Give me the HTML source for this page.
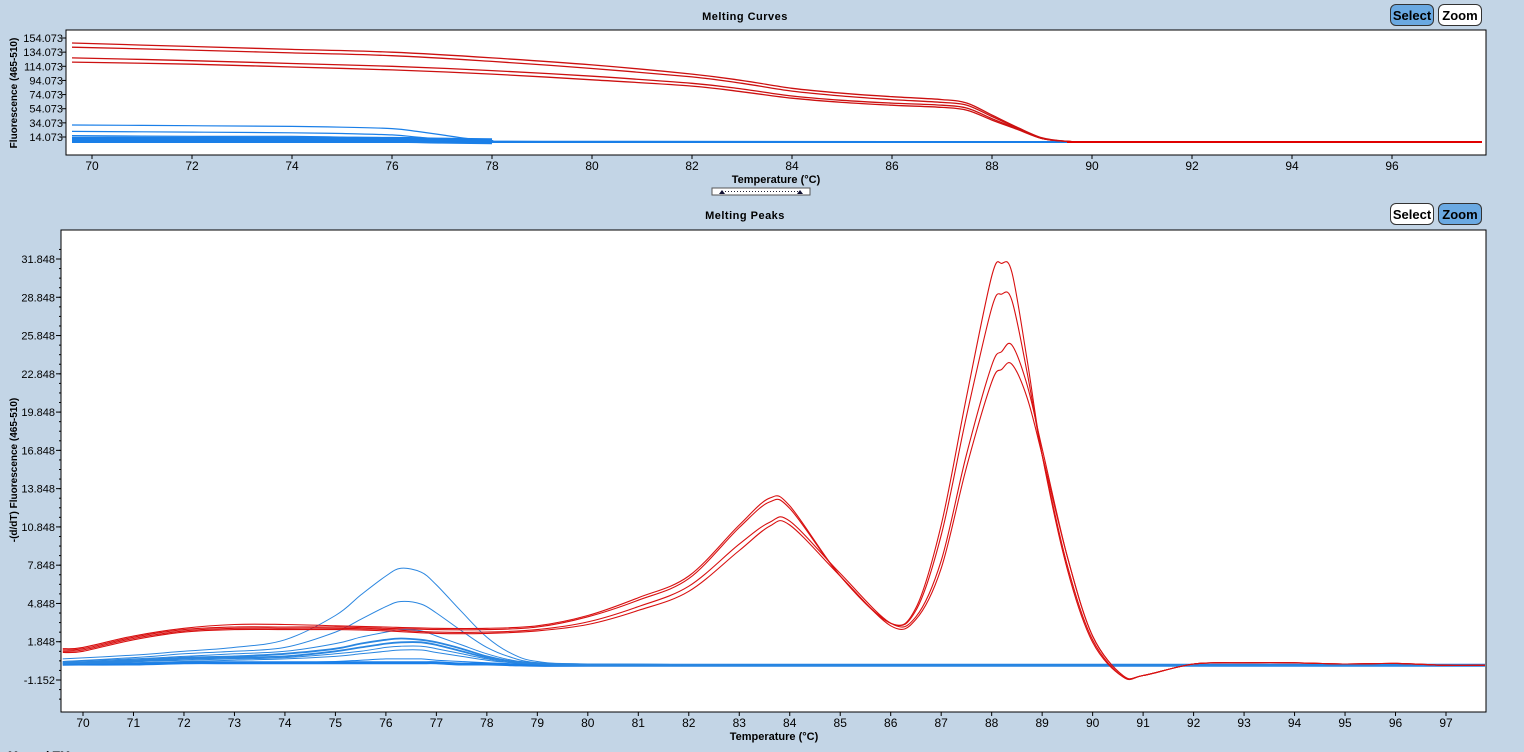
<!DOCTYPE html>
<html><head><meta charset="utf-8">
<style>
html,body{margin:0;padding:0;background:#c3d5e6;width:1524px;height:752px;overflow:hidden;font-family:"Liberation Sans",Arial,sans-serif}
svg{position:absolute;left:0;top:0}
.btn{position:absolute;height:22px;border:1px solid #333;border-radius:6px;font:bold 13px "Liberation Sans",sans-serif;line-height:22px;text-align:center;box-sizing:border-box}
</style></head>
<body>
<svg id="chart" width="1524" height="752" xmlns="http://www.w3.org/2000/svg"></svg>
<div class="btn" style="left:1390px;top:4px;width:44px;background:#6aa9e2">Select</div>
<div class="btn" style="left:1438px;top:4px;width:44px;background:#fff">Zoom</div>
<div class="btn" style="left:1390px;top:203px;width:44px;background:#fff">Select</div>
<div class="btn" style="left:1438px;top:203px;width:44px;background:#6aa9e2">Zoom</div>
<script>
// ---- top chart data (Melting Curves) ----
const topTemps = [69.6,72,74,76,78,80,82,83,84,85,86,87,87.5,88,88.5,89,89.5,90,92,97.8];
const topRed1 = [147,142,138,134,126,116,103,94,83,76,71,67,62,45,28,13,8,7,7,7];
const topRed2 = [141,137,133,129,121,111,99,90,79,72,67,63,59,43,27,12,8,7,7,7];
const topRed3 = [126,122,118,114,108,100,90,82,72,66,62,59,55,40,26,12,8,7,7,7];
const topRed4 = [120,117,113,109,103,95,86,78,69,63,59,56,52,38,25,12,8,7,7,7];
const topBlueTemps = [69.6,72,74,75,76,76.5,77,77.5,78,79,97.8];
const topBlue1 = [31,30,29,28,26,22,17,12,9,8,7];
const topBlue2 = [22,21,20,19,17,14,11,9,8,7,7];
const topBlue3 = [16,15,15,14,13,11,9,8,7,7,7];
const topBlue4 = [13,13,13,12,12,11,9,8,7,7,7];
const topBandTemps = [69.6,72,74,76,77,78];
const topBand = [10,10,10,10,9,8];
const topYTicks = [14.073,34.073,54.073,74.073,94.073,114.073,134.073,154.073];
const topXTicks = [70,72,74,76,78,80,82,84,86,88,90,92,94,96];
// ---- bottom chart data (Melting Peaks) ----
const botTemps = [69.6,70,71,72,73,74,75,76,77,78,79,80,81,82,83,83.6,84,85,86,86.5,87,87.5,88,88.2,88.4,88.7,89,89.5,90,90.6,91,92,93,94,95,96,97,97.8];
const botRed1 = [1.3,1.4,2.3,2.9,3.2,3.2,3.1,3.0,2.9,2.9,3.1,3.9,5.3,7.0,11.0,13.1,12.5,7.0,3.3,4.5,11,21,30.5,31.5,30.8,24,16.5,7.5,1.8,-0.9,-0.8,0.1,0.2,0.2,0.1,0.15,0,0];
const botRed2 = [1.2,1.3,2.2,2.8,3.0,3.0,3.0,2.9,2.8,2.8,3.0,3.8,5.1,6.8,10.8,12.8,12.3,7.0,3.3,4.3,10.2,19.5,28,29.1,28.6,23,16.5,7.8,2.0,-0.9,-0.8,0.1,0.2,0.2,0.1,0.15,0,0];
const botRed3 = [1.1,1.2,2.1,2.7,2.9,2.9,2.9,2.8,2.6,2.6,2.8,3.4,4.6,6.2,9.5,11.2,11.3,7.2,3.3,3.8,8.2,16.5,23.5,24.6,25.1,22,17,8.5,2.3,-0.8,-0.8,0.1,0.2,0.2,0.1,0.15,0,0];
const botRed4 = [1.0,1.1,2.0,2.6,2.8,2.8,2.8,2.7,2.5,2.5,2.7,3.2,4.3,5.8,9.0,10.9,11.0,7.0,3.1,3.6,7.6,15.5,22.2,23.2,23.6,21,16.5,8.5,2.3,-0.8,-0.8,0.1,0.2,0.2,0.1,0.15,0,0];
const botBlueTemps = [69.6,71,72,73,74,75,75.5,76,76.3,76.7,77,77.5,78,78.5,79,80,84,90,97.8];
const botBlue1 = [0.5,0.8,1.1,1.4,2.0,3.9,5.5,7.0,7.6,7.3,6.3,4.2,2.2,0.9,0.3,0.1,0,0,0];
const botBlue2 = [0.3,0.6,0.9,1.1,1.4,2.6,3.6,4.6,5.0,4.8,4.1,2.7,1.4,0.6,0.2,0.1,0,0,0];
const botBlue3 = [0.3,0.5,0.7,0.9,1.1,1.7,2.2,2.6,2.8,2.7,2.3,1.6,0.9,0.4,0.2,0.1,0,0,0];
const botBlue4 = [0.2,0.4,0.6,0.7,0.9,1.3,1.7,2.0,2.1,2.0,1.8,1.3,0.7,0.3,0.1,0,0,0,0];
const botBlue5 = [0.2,0.3,0.5,0.6,0.7,1.1,1.4,1.7,1.8,1.8,1.6,1.1,0.6,0.3,0.1,0,0,0,0];
const botBlue6 = [0.1,0.3,0.4,0.5,0.6,0.9,1.1,1.4,1.5,1.5,1.3,0.9,0.5,0.2,0.1,0,0,0,0];
const botBlue7 = [0.1,0.2,0.3,0.4,0.5,0.7,0.9,1.1,1.2,1.2,1.0,0.7,0.4,0.2,0.1,0,0,0,0];
const botBlue8 = [0.0,0.1,0.2,0.2,0.2,0.3,0.4,0.5,0.5,0.5,0.4,0.3,0.2,0.1,0,0,0,0,0];
const botBlue9 = [0.1,0.1,0.2,0.2,0.2,0.2,0.2,0.2,0.2,0.2,0.2,0.1,0.1,0.05,0,0,0,0,0];
const botYTicks = [-1.152,1.848,4.848,7.848,10.848,13.848,16.848,19.848,22.848,25.848,28.848,31.848];
const botXTicks = [70,71,72,73,74,75,76,77,78,79,80,81,82,83,84,85,86,87,88,89,90,91,92,93,94,95,96,97];

const NS="http://www.w3.org/2000/svg";
const svg=document.getElementById('chart');
function mk(tag,attrs,parent){const e=document.createElementNS(NS,tag);for(const k in attrs)e.setAttribute(k,attrs[k]);(parent||svg).appendChild(e);return e;}
function txt(x,y,s,attrs){const e=mk('text',Object.assign({x:x,y:y,'font-family':'Liberation Sans, Arial, sans-serif','font-size':12,fill:'#000'},attrs||{}));e.textContent=s;return e;}

const topBox={x0:66,x1:1486,y0:30,y1:155};
const topX=t=>92+(t-70)*50;
const topY=v=>137-(v-14.073)*(99/140);
const botBox={x0:61,x1:1486,y0:230,y1:712};
const botX=t=>83+(t-70)*(1363/27);
const botY=v=>680-(v+1.152)*(421/33);

function pathFrom(ts,vs,fx,fy){
  const p=ts.map((t,i)=>[fx(t),fy(vs[i])]);
  let d='M'+p[0][0].toFixed(1)+','+p[0][1].toFixed(1);
  for(let i=0;i<p.length-1;i++){
    const p0=p[Math.max(0,i-1)],p1=p[i],p2=p[i+1],p3=p[Math.min(p.length-1,i+2)];
    const c1x=p1[0]+(p2[0]-p0[0])/6,c1y=p1[1]+(p2[1]-p0[1])/6;
    const c2x=p2[0]-(p3[0]-p1[0])/6,c2y=p2[1]-(p3[1]-p1[1])/6;
    d+=' C'+c1x.toFixed(1)+','+c1y.toFixed(1)+' '+c2x.toFixed(1)+','+c2y.toFixed(1)+' '+p2[0].toFixed(1)+','+p2[1].toFixed(1);
  }
  return d;
}

// ---------- TOP ----------
txt(745,20,'Melting Curves',{'font-weight':'bold','font-size':11,'text-anchor':'middle','letter-spacing':'0.5'});
const tb=mk('rect',{x:topBox.x0,y:topBox.y0,width:topBox.x1-topBox.x0,height:topBox.y1-topBox.y0,fill:'#fff',stroke:'#000','stroke-width':1});


topYTicks.forEach(v=>{const y=topY(v);mk('line',{x1:topBox.x0-4,x2:topBox.x0,y1:y,y2:y,stroke:'#000'});
  const l=txt(topBox.x0-3,y+4,v.toFixed(3),{'text-anchor':'end','font-size':11});
  
  });
topXTicks.forEach(t=>{const x=topX(t);mk('line',{x1:x,x2:x,y1:topBox.y1,y2:topBox.y1+4,stroke:'#000'});
  const l=txt(x,170,String(t),{'text-anchor':'middle'});
  
  });
const tyl=txt(0,0,'Fluorescence (465-510)',{'font-weight':'bold','font-size':10,'text-anchor':'middle',transform:'translate(17,93) rotate(-90)'});

const txl=txt(776,183,'Temperature (°C)',{'font-weight':'bold','font-size':11,'text-anchor':'middle'});

const sh=mk('rect',{x:712,y:188,width:98,height:7,fill:'#fff',stroke:'#555'});


mk('line',{x1:722,x2:800,y1:191.5,y2:191.5,stroke:'#223','stroke-dasharray':'1,2'});
mk('polygon',{points:'719,194 722,190 725,194',fill:'#113'});
mk('polygon',{points:'797,194 800,190 803,194',fill:'#113'});

const defs=mk('defs',{});
const cp=mk('clipPath',{id:'ct'},defs);mk('rect',{x:topBox.x0+1,y:topBox.y0+1,width:topBox.x1-topBox.x0-2,height:topBox.y1-topBox.y0-2},cp);
const cp2=mk('clipPath',{id:'cb'},defs);mk('rect',{x:botBox.x0+1,y:botBox.y0+1,width:botBox.x1-botBox.x0-2,height:botBox.y1-botBox.y0-2},cp2);
const gTop=mk('g',{'clip-path':'url(#ct)'});
const band=mk('path',{d:pathFrom(topBandTemps,topBand,topX,topY),fill:'none',stroke:'#1a7fe8','stroke-width':6},gTop);


mk('line',{x1:topX(69.6),x2:topX(97.8),y1:topY(7),y2:topY(7),stroke:'#1a7fe8','stroke-width':2},gTop);
[[topBlue4,2],[topBlue3,1.2],[topBlue2,1.2],[topBlue1,1.2]].forEach(s=>{
  const p=mk('path',{d:pathFrom(topBlueTemps,s[0],topX,topY),fill:'none',stroke:'#1a7fe8','stroke-width':s[1]},gTop);
  
  
});
[topRed1,topRed2,topRed3,topRed4].forEach(s=>{
  const p=mk('path',{d:pathFrom(topTemps,s,topX,topY),fill:'none',stroke:'#cc1010','stroke-width':1.3},gTop);
  
  
});
mk('line',{x1:topX(89.5),x2:topX(97.8),y1:topY(7),y2:topY(7),stroke:'#e00000','stroke-width':2},gTop);

// ---------- BOTTOM ----------
txt(745,219,'Melting Peaks',{'font-weight':'bold','font-size':11,'text-anchor':'middle','letter-spacing':'0.5'});
const bb=mk('rect',{x:botBox.x0,y:botBox.y0,width:botBox.x1-botBox.x0,height:botBox.y1-botBox.y0,fill:'#fff',stroke:'#000','stroke-width':1});


for(let v=-1.152-1.5;v<=33;v+=0.75){const y=botY(v);if(y<botBox.y0||y>botBox.y1)continue;mk('line',{x1:botBox.x0-2,x2:botBox.x0,y1:y,y2:y,stroke:'#000'});}
botYTicks.forEach(v=>{const y=botY(v);mk('line',{x1:botBox.x0-5,x2:botBox.x0,y1:y,y2:y,stroke:'#000'});
  const l=txt(botBox.x0-6,y+4,v.toFixed(3),{'text-anchor':'end','font-size':11});
  
  });
botXTicks.forEach(t=>{const x=botX(t);mk('line',{x1:x,x2:x,y1:botBox.y1,y2:botBox.y1+4,stroke:'#000'});
  const l=txt(x,727,String(t),{'text-anchor':'middle'});
  
  });
const byl=txt(0,0,'-(d/dT) Fluorescence (465-510)',{'font-weight':'bold','font-size':10,'text-anchor':'middle',transform:'translate(17,470) rotate(-90)'});

const bxl=txt(774,740,'Temperature (°C)',{'font-weight':'bold','font-size':11,'text-anchor':'middle'});

const mt=txt(8,760,'Manual TM',{'font-weight':'bold','font-size':12});


const gBot=mk('g',{'clip-path':'url(#cb)'});
[botBlue9,botBlue8,botBlue7,botBlue6,botBlue5,botBlue4,botBlue3,botBlue2,botBlue1].forEach((s,i)=>{
  const p=mk('path',{d:pathFrom(botBlueTemps,s,botX,botY),fill:'none',stroke:i<2?'#1a7fe8':'#2a86e0','stroke-width':i===0?3:(i===5||i===4?1.8:1)},gBot);
  
  
});
[botRed1,botRed2,botRed3,botRed4].forEach(s=>{
  const p=mk('path',{d:pathFrom(botTemps,s,botX,botY),fill:'none',stroke:'#d81010','stroke-width':1.1},gBot);
  
  
});
</script>
</body></html>
